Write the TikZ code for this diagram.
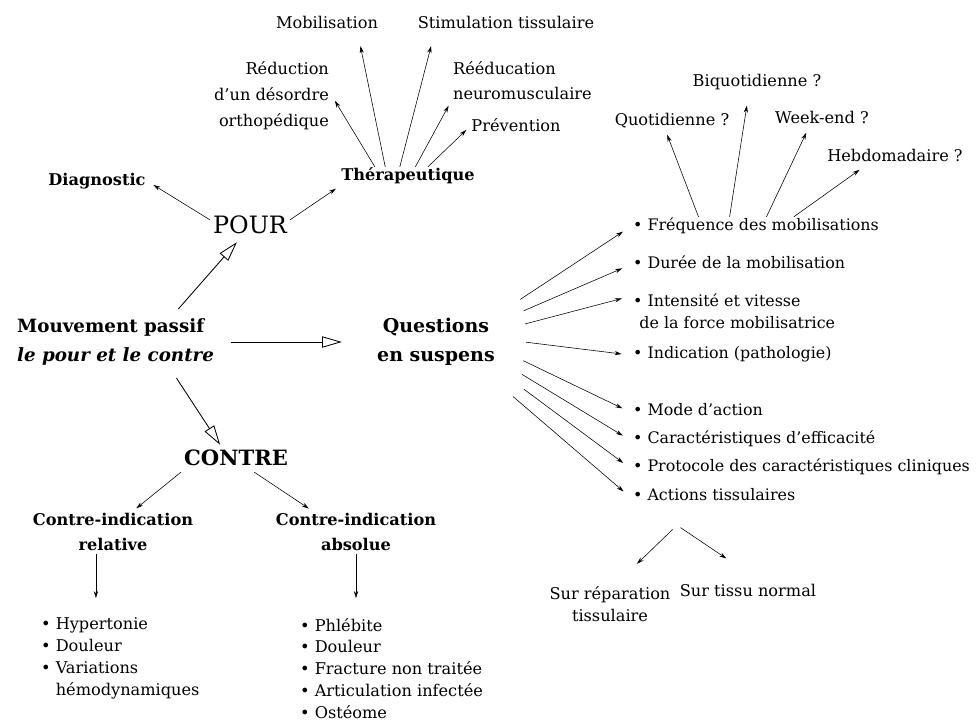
\documentclass[tikz,border=0pt]{standalone}
\usepackage{fontspec}
\setmainfont{DejaVu Serif}
\usetikzlibrary{arrows.meta, positioning}

\tikzset{
  lbl/.style={inner sep=2pt, font=\fontsize{11.5}{15.6}\selectfont},
  item/.style={inner sep=2pt, anchor=west, font=\fontsize{11.3}{15.6}\selectfont},
  head/.style={inner sep=2pt, font=\fontsize{11.5}{15.6}\selectfont\bfseries},
  title/.style={inner sep=2pt, font=\fontsize{17}{18}\selectfont},
  line1/.style={text height=0.75em, text depth=0.25em},
  link/.style={-{Stealth[length=5pt, width=3pt]}, thin, shorten >=2pt},
  big/.style={-{Triangle[open, length=14pt, width=8pt]}, semithick}
}

\begin{document}
\begin{tikzpicture}[x=0.025cm, y=-0.025cm]
        \useasboundingbox (0,0) rectangle (976,727);
        \fill[white] (0,0) rectangle (976,727);

        % centre
        \node[head, anchor=west, align=left, font=\fontsize{13}{21}\selectfont\bfseries]
          (mouv) at (14,342) {Mouvement passif\\ \textit{le pour et le contre}};
        \node[title, line1] (pour) at (250,230) {POUR};
        \node[title, line1, font=\fontsize{15}{18}\selectfont\bfseries] (contre) at (236,462) {CONTRE};
        \node[head, align=center, font=\fontsize{13.5}{21}\selectfont\bfseries]
          (quest) at (436,342) {Questions\\ en suspens};

        % pour
        \node[head, line1] (diag) at (97,182) {Diagnostic};
        \node[head, line1] (ther) at (408,177) {Thérapeutique};
        \node[lbl, line1] (mob) at (327,25) {Mobilisation};
        \node[lbl, line1] (stim) at (506,25) {Stimulation tissulaire};
        \node[lbl, anchor=east, align=right, font=\fontsize{11.5}{18.5}\selectfont]
          (reduc) at (332,96) {Réduction\\ d'un désordre\\ orthopédique};
        \node[lbl, anchor=west, align=left, font=\fontsize{11.5}{17.8}\selectfont]
          (reed) at (450,81) {Rééducation\\ neuromusculaire};
        \node[lbl, line1] (prev) at (516,128) {Prévention};

        % contre
        \node[head, align=center, font=\fontsize{11.5}{17.8}\selectfont\bfseries]
          (rel) at (113,532) {Contre-indication\\ relative};
        \node[head, align=center, font=\fontsize{11.5}{17.8}\selectfont\bfseries]
          (abso) at (356,532) {Contre-indication\\ absolue};
        \node[lbl, anchor=north west, align=left] (relist) at (38,615)
          {• Hypertonie\\ • Douleur\\ • Variations\\ \phantom{• }hémodynamiques};
        \node[lbl, anchor=north west, align=left] (abslist) at (297,615)
          {• Phlébite\\ • Douleur\\ • Fracture non traitée\\ • Articulation infectée\\ • Ostéome};

        % questions en suspens
        \node[item, line1] (freq) at (630,227) {• Fréquence des mobilisations};
        \node[item, line1] (duree) at (630,265) {• Durée de la mobilisation};
        \node[item, align=left] (intens) at (630,311)
          {• Intensité et vitesse\\ \hspace{0.4em}de la force mobilisatrice};
        \node[item, line1] (indic) at (630,355) {• Indication (pathologie)};
        \node[item, line1] (mode) at (630,412) {• Mode d'action};
        \node[item, line1] (carac) at (630,440) {• Caractéristiques d'efficacité};
        \node[item, line1] (proto) at (630,468) {• Protocole des caractéristiques cliniques};
        \node[item, line1] (actions) at (630,497) {• Actions tissulaires};

        \node[lbl, line1] (quot) at (672,122) {Quotidienne ?};
        \node[lbl, line1] (biq) at (757,83) {Biquotidienne ?};
        \node[lbl, line1] (week) at (822,120) {Week-end ?};
        \node[lbl, line1] (hebdo) at (895,158) {Hebdomadaire ?};

        \node[lbl, align=center] (rep) at (610,604) {Sur réparation\\ tissulaire};
        \node[lbl, line1] (norm) at (748,593) {Sur tissu normal};

        % grandes fleches
        \draw[big, shorten <=6pt, shorten >=2pt] (mouv.25) -- (pour.222);
        \draw[big, shorten <=10pt, shorten >=23pt] (mouv.east) -- (quest.west);
        \draw[big, shorten <=8pt, shorten >=6pt] (mouv.-26) -- (contre.138);

        % fleches
        \draw[link, shorten >=4pt] (pour.north west) -- (diag.east);
        \draw[link] (pour.north east) -- (ther.south west);
        \foreach \a/\t/\s in {163/reduc.east/4pt, 156/mob.-18/8pt, 129/stim.188/8pt,
                              54/reed.south west/2pt, 27/prev.west/2pt}
          \draw[link, shorten >=\s] (ther.\a) -- (\t);

        \draw[link] (contre.south west) -- (rel.46);
        \draw[link] (contre.-29) -- (abso.154);
        \draw[link, shorten >=12pt] (rel.232) -- (rel.232 |- relist.north);
        \draw[link, shorten >=12pt] (abso.south) -- (abso.south |- abslist.north);

        \foreach \a/\t/\s in {24/freq.west/20pt, 18/duree.west/20pt, 10/intens.172/20pt,
                              3/indic.west/20pt, -6/mode.west/20pt, -16/carac.west/20pt,
                              -24/proto.west/24pt, -31/actions.west/30pt}
          \draw[link, shorten <=\s, shorten >=6pt] (quest.\a) -- (\t);

        \foreach \a/\t/\s in {170/quot.240/2pt, 159/biq.231/9pt, 44/week.215/2pt, 15/hebdo.197/2pt}
          \draw[link, shorten >=\s] (freq.\a) -- (\t);

        \draw[link, shorten <=23pt, shorten >=20pt] (actions.209) -- (rep.72);
        \draw[link, shorten <=26pt, shorten >=31pt] (actions.189) -- (norm.35);
      \end{tikzpicture}
\end{document}
